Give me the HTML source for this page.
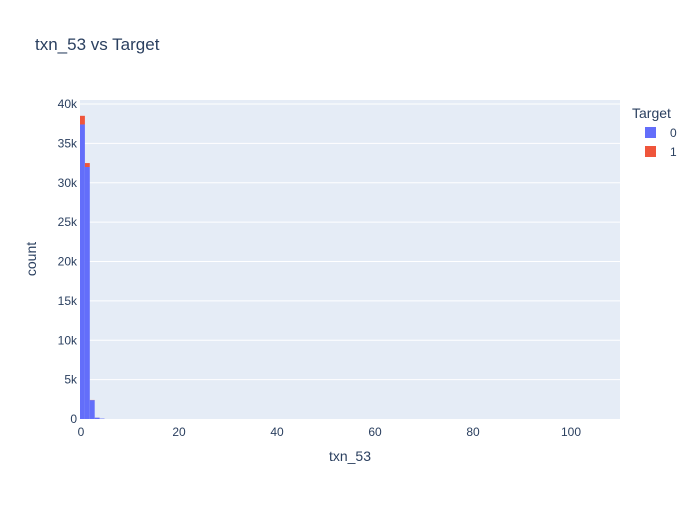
<!DOCTYPE html>
<html><head><meta charset="utf-8"><style>
body{margin:0;background:#fff;font-family:"Liberation Sans",sans-serif}
</style></head><body>
<svg id="chart" width="700" height="500" xmlns="http://www.w3.org/2000/svg" font-family="Liberation Sans, sans-serif">
<rect x="80" y="100" width="540" height="319" fill="#e5ecf6"/>
<g id="grid"></g><g id="bars"></g><g id="ticks"></g>
<text x="35" y="50" font-size="17" fill="#2a3f5f">txn_53 vs Target</text>
<text x="350" y="461" font-size="14" fill="#2a3f5f" text-anchor="middle">txn_53</text>
<text transform="translate(36,259) rotate(-90)" font-size="14" fill="#2a3f5f" text-anchor="middle">count</text>
<g>
<text x="632" y="118" font-size="14" fill="#2a3f5f">Target</text>
<rect x="645" y="127" width="11" height="11" fill="#636efa"/>
<text x="670" y="137" font-size="12" fill="#2a3f5f">0</text>
<rect x="645" y="146" width="11" height="11" fill="#ef553b"/>
<text x="670" y="156" font-size="12" fill="#2a3f5f">1</text>
</g>
</svg>
<script>
const binStarts=[0,1,2,3,4];
const series0=[37400,32000,2400,170,50];
const series1=[1100,500,20,5,0];
const yTicks=[0,5000,10000,15000,20000,25000,30000,35000,40000];
const yTickLabels=["0","5k","10k","15k","20k","25k","30k","35k","40k"];
const xTicks=[0,20,40,60,80,100];
const ns="http://www.w3.org/2000/svg";
const X=v=>81+v*4.9, Y=v=>419-v*0.007875;
function mk(tag,attrs,parent){const e=document.createElementNS(ns,tag);for(const k in attrs)e.setAttribute(k,attrs[k]);document.getElementById(parent).appendChild(e);return e;}
yTicks.forEach((t,i)=>{
 if(t>0){const l=mk('line',{x1:80,x2:620,y1:Y(t),y2:Y(t),stroke:'#fff','stroke-width':1},'grid');
 
 }
 const tx=mk('text',{x:77,y:Y(t)+4,'font-size':12,fill:'#2a3f5f','text-anchor':'end'},'ticks');tx.textContent=yTickLabels[i];
 
 
});
xTicks.forEach(t=>{
 const tx=mk('text',{x:X(t),y:436,'font-size':12,fill:'#2a3f5f','text-anchor':'middle'},'ticks');tx.textContent=t;
 
 
});
binStarts.forEach((b,i)=>{
 const x0=X(b)-1,w=4.9;
 const r0=mk('rect',{x:x0,y:Y(series0[i]),width:w,height:419-Y(series0[i]),fill:'#636efa'},'bars');
 
 
 const top=series0[i]+series1[i];
 const r1=mk('rect',{x:x0,y:Y(top),width:w,height:Y(series0[i])-Y(top),fill:'#ef553b'},'bars');
 
 
});
</script>
</body></html>
